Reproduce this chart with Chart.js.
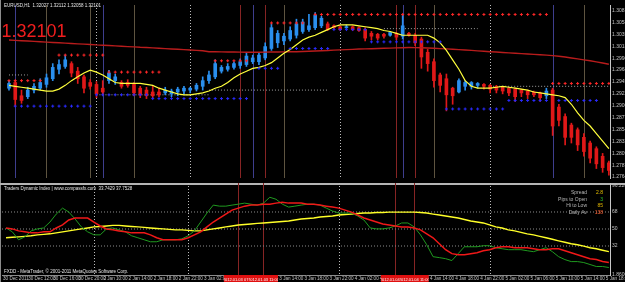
<!DOCTYPE html>
<html>
<head>
<meta charset="utf-8">
<script src="https://cdn.jsdelivr.net/npm/chart.js@4.4.1/dist/chart.umd.min.js"></script>
<style>
  html, body { margin: 0; padding: 0; background: #000; }
  #wrap { position: relative; width: 625px; height: 282px; overflow: hidden; background: #000; }
  canvas { position: absolute; left: 0; }
  #priceChart { top: 0; }
  #tdiChart { top: 183px; }
</style>
</head>
<body>
<div id="wrap">
  <canvas id="priceChart" width="625" height="183"></canvas>
  <canvas id="tdiChart" width="625" height="99"></canvas>
</div>
<script>
// EURUSD H1 candles, one per bar (bar index = position on the time axis)
const barOpen = [
  1.29336, 1.29444, 1.29192, 1.29174, 1.29300, 1.29336, 1.29408, 1.29516, 1.29696, 1.29750,
  1.29804, 1.29660, 1.29552, 1.29444, 1.29408, 1.29336, 1.29480, 1.29480, 1.29444, 1.29444,
  1.29408, 1.29336, 1.29300, 1.29264, 1.29264, 1.29246, 1.29228, 1.29264, 1.29282, 1.29300,
  1.29318, 1.29372, 1.29480, 1.29552, 1.29660, 1.29696, 1.29732, 1.29768, 1.29786, 1.29840,
  1.29840, 1.29912, 1.30092, 1.30200, 1.30236, 1.30272, 1.30344, 1.30416, 1.30452, 1.30488,
  1.30524, 1.30560, 1.30524, 1.30506, 1.30488, 1.30506, 1.30488, 1.30452, 1.30380, 1.30362,
  1.30362, 1.30344, 1.30380, 1.30326, 1.30380, 1.30344, 1.30272, 1.30020, 1.29840, 1.29588,
  1.29516, 1.29336, 1.29264, 1.29372, 1.29372, 1.29390, 1.29408, 1.29390, 1.29372, 1.29354,
  1.29336, 1.29318, 1.29300, 1.29282, 1.29264, 1.29246, 1.29192, 1.29300, 1.28976, 1.28796,
  1.28634, 1.28544, 1.28400, 1.28292, 1.28184, 1.28040, 1.27914
];
const barHigh = [
  1.29480, 1.29480, 1.29300, 1.29354, 1.29426, 1.29516, 1.29606, 1.29804, 1.29876, 1.29966,
  1.29840, 1.29732, 1.29588, 1.29498, 1.29462, 1.29480, 1.29678, 1.29606, 1.29480, 1.29498,
  1.29444, 1.29372, 1.29354, 1.29372, 1.29336, 1.29354, 1.29318, 1.29354, 1.29372, 1.29354,
  1.29426, 1.29552, 1.29660, 1.29876, 1.29768, 1.29804, 1.29840, 1.29894, 1.30020, 1.29966,
  1.30020, 1.30200, 1.30560, 1.30434, 1.30380, 1.30506, 1.30650, 1.30650, 1.30740, 1.30776,
  1.30704, 1.30596, 1.30542, 1.30524, 1.30542, 1.30524, 1.30506, 1.30488, 1.30416, 1.30380,
  1.30380, 1.30416, 1.30398, 1.30740, 1.30398, 1.30380, 1.30308, 1.30074, 1.29894, 1.29624,
  1.29606, 1.29354, 1.29516, 1.29480, 1.29462, 1.29444, 1.29426, 1.29408, 1.29390, 1.29372,
  1.29354, 1.29336, 1.29318, 1.29300, 1.29282, 1.29264, 1.29336, 1.29336, 1.29030, 1.28850,
  1.28670, 1.28580, 1.28472, 1.28328, 1.28220, 1.28094, 1.27950
];
const barLow = [
  1.29300, 1.28994, 1.29048, 1.29138, 1.29246, 1.29300, 1.29354, 1.29480, 1.29606, 1.29714,
  1.29552, 1.29426, 1.29246, 1.29318, 1.29156, 1.29210, 1.29426, 1.29408, 1.29336, 1.29354,
  1.29192, 1.29156, 1.29138, 1.29156, 1.29174, 1.29210, 1.29174, 1.29192, 1.29228, 1.29246,
  1.29282, 1.29300, 1.29426, 1.29516, 1.29624, 1.29660, 1.29696, 1.29714, 1.29750, 1.29804,
  1.29786, 1.29876, 1.30056, 1.30110, 1.30164, 1.30236, 1.30290, 1.30380, 1.30416, 1.30452,
  1.30488, 1.30434, 1.30470, 1.30434, 1.30470, 1.30434, 1.30416, 1.30236, 1.30254, 1.30254,
  1.30290, 1.30326, 1.30254, 1.30272, 1.30326, 1.30146, 1.29714, 1.29660, 1.29354, 1.29264,
  1.28904, 1.29030, 1.29246, 1.29300, 1.29318, 1.29336, 1.29318, 1.29246, 1.29246, 1.29228,
  1.29192, 1.29084, 1.29174, 1.29138, 1.29174, 1.29084, 1.29138, 1.28436, 1.28616, 1.28256,
  1.28292, 1.28148, 1.28040, 1.27914, 1.27806, 1.27734, 1.27680
];
const barClose = [
  1.29426, 1.29120, 1.29102, 1.29300, 1.29372, 1.29444, 1.29534, 1.29732, 1.29786, 1.29876,
  1.29624, 1.29516, 1.29336, 1.29372, 1.29228, 1.29264, 1.29624, 1.29552, 1.29372, 1.29390,
  1.29246, 1.29210, 1.29192, 1.29192, 1.29210, 1.29300, 1.29282, 1.29318, 1.29336, 1.29336,
  1.29390, 1.29480, 1.29588, 1.29804, 1.29732, 1.29750, 1.29804, 1.29840, 1.29948, 1.29912,
  1.29966, 1.30128, 1.30488, 1.30380, 1.30326, 1.30434, 1.30560, 1.30596, 1.30524, 1.30722,
  1.30668, 1.30452, 1.30488, 1.30452, 1.30506, 1.30452, 1.30434, 1.30290, 1.30326, 1.30290,
  1.30326, 1.30398, 1.30308, 1.30524, 1.30344, 1.30200, 1.29930, 1.29804, 1.29480, 1.29390,
  1.29210, 1.29192, 1.29480, 1.29444, 1.29444, 1.29426, 1.29372, 1.29318, 1.29300, 1.29282,
  1.29246, 1.29174, 1.29246, 1.29210, 1.29210, 1.29156, 1.29282, 1.28616, 1.28724, 1.28400,
  1.28400, 1.28256, 1.28130, 1.28004, 1.27896, 1.27824, 1.27770
];
// yellow smoothed average
const fastLine = [
  1.29390, 1.29372, 1.29354, 1.29336, 1.29318, 1.29300, 1.29282, 1.29282, 1.29318, 1.29390,
  1.29480, 1.29552, 1.29624, 1.29678, 1.29642, 1.29588, 1.29516, 1.29444, 1.29426, 1.29426,
  1.29426, 1.29426, 1.29408, 1.29390, 1.29336, 1.29300, 1.29264, 1.29228, 1.29210, 1.29210,
  1.29228, 1.29246, 1.29282, 1.29336, 1.29372, 1.29444, 1.29534, 1.29606, 1.29660, 1.29714,
  1.29732, 1.29768, 1.29822, 1.29912, 1.30002, 1.30074, 1.30164, 1.30254, 1.30308, 1.30344,
  1.30398, 1.30452, 1.30506, 1.30542, 1.30542, 1.30542, 1.30524, 1.30506, 1.30488, 1.30470,
  1.30434, 1.30416, 1.30380, 1.30344, 1.30344, 1.30344, 1.30344, 1.30344, 1.30290, 1.30200,
  1.30056, 1.29876, 1.29696, 1.29480, 1.29372, 1.29336, 1.29336, 1.29336, 1.29354, 1.29372,
  1.29354, 1.29336, 1.29318, 1.29300, 1.29264, 1.29246, 1.29228, 1.29210, 1.29192, 1.29156,
  1.29030, 1.28868, 1.28724, 1.28616, 1.28472, 1.28328, 1.28184
];
// dark red long average
const slowLine = [
  1.30254, 1.30247, 1.30240, 1.30234, 1.30227, 1.30220, 1.30214, 1.30207,
  1.30200, 1.30195, 1.30187, 1.30180, 1.30175, 1.30168, 1.30160, 1.30155,
  1.30148, 1.30142, 1.30135, 1.30128, 1.30123, 1.30115, 1.30110, 1.30103,
  1.30097, 1.30090, 1.30083, 1.30078, 1.30070, 1.30063, 1.30056, 1.30049,
  1.30031, 1.30029, 1.30027, 1.30025, 1.30024, 1.30022, 1.30020, 1.30020,
  1.30020, 1.30022, 1.30024, 1.30025, 1.30027, 1.30029, 1.30031, 1.30034,
  1.30038, 1.30043, 1.30049, 1.30054, 1.30060, 1.30065, 1.30070, 1.30076,
  1.30081, 1.30085, 1.30088, 1.30092, 1.30096, 1.30099, 1.30103, 1.30106,
  1.30110, 1.30108, 1.30105, 1.30101, 1.30096, 1.30090, 1.30085, 1.30078,
  1.30070, 1.30063, 1.30056, 1.30047, 1.30038, 1.30031, 1.30024, 1.30016,
  1.30009, 1.30002, 1.29995, 1.29988, 1.29980, 1.29973, 1.29966, 1.29957,
  1.29944, 1.29930, 1.29912, 1.29894, 1.29876, 1.29858, 1.29836, 1.29815, 1.29793
];
const priceTicks = [1.30812, 1.30586, 1.30359, 1.30133, 1.29907, 1.29681, 1.29454, 1.29228,
  1.29002, 1.28776, 1.28549, 1.28323, 1.28097, 1.27871, 1.27644];

// [level, first bar, last bar]
const resistDots = [[1.29480, 0, 5], [1.29966, 8, 15], [1.29642, 16, 24], [1.29858, 33, 38],
  [1.30578, 42, 47], [1.30740, 49, 86], [1.29426, 87, 96]];
const supportDots = [[1.28994, 1, 13], [1.29210, 14, 22], [1.29138, 23, 38], [1.29714, 40, 43],
  [1.30092, 45, 51], [1.30452, 52, 57], [1.30218, 58, 69], [1.28940, 70, 79],
  [1.29102, 80, 86], [1.29102, 88, 94]];
const pivotLines = [[1.29588, 0, 3], [1.29210, 14, 32], [1.29300, 32, 51], [1.30470, 60, 75], [1.29372, 77, 96]];

// vertical markers (bar index)
const blueMarkers = [1, 15, 39, 63, 87];
const tanMarkers = [6, 13, 20, 44, 68, 92];
const redMarkers = [37, 41, 62, 65];
const markerTimes = ['2012.01.03 07:00', '2012.01.03 11:00', '2012.01.04 08:00', '2012.01.04 11:00'];
const daySeparators = [14, 29, 53, 77];

const labelBars = [0, 4, 8, 12, 16, 20, 24, 28, 32, 36, 40, 44, 48, 52, 56, 60, 64, 68, 72, 76, 80, 84, 88, 92, 96];
const timeLabels = ['30 Dec 2011', '30 Dec 12:00', '30 Dec 16:00', '30 Dec 20:00', '2 Jan 10:00', '2 Jan 14:00',
  '2 Jan 18:00', '2 Jan 22:00', '3 Jan 02:00', '3 Jan 06:00', '3 Jan 10:00', '3 Jan 14:00', '3 Jan 18:00',
  '3 Jan 22:00', '4 Jan 02:00', '4 Jan 06:00', '4 Jan 10:00', '4 Jan 14:00', '4 Jan 18:00', '4 Jan 22:00',
  '5 Jan 02:00', '5 Jan 06:00', '5 Jan 10:00', '5 Jan 14:00', '5 Jan 18:00'];

// Traders Dynamic Index
const tdiPrice = [
  51.1, 47.0, 38.6, 41.7, 48.0, 50.1, 51.1, 57.4, 65.8, 72.1,
  67.9, 60.6, 52.2, 47.0, 43.8, 43.8, 50.1, 51.1, 49.1, 47.0,
  42.8, 40.7, 38.6, 36.5, 36.5, 38.6, 38.6, 38.6, 39.6, 42.8,
  48.0, 57.4, 66.9, 75.3, 74.2, 74.2, 75.3, 76.3, 77.4, 76.3,
  75.3, 77.4, 83.6, 81.5, 76.3, 73.2, 74.2, 75.3, 76.3, 76.3,
  75.3, 72.1, 69.0, 66.9, 66.9, 66.9, 63.7, 59.5, 51.1, 50.1,
  50.1, 51.1, 53.2, 56.4, 56.4, 52.2, 43.8, 33.3, 20.7, 19.7,
  18.6, 16.6, 23.9, 31.2, 31.2, 31.2, 32.3, 32.3, 30.2, 29.1,
  28.1, 28.1, 28.1, 27.0, 26.0, 28.1, 30.2, 26.0, 20.7, 17.6,
  15.5, 15.5, 14.5, 12.4, 10.3, 10.3, 9.2
];
const tdiSignal = [
  51.1, 50.1, 48.0, 47.0, 45.9, 45.9, 47.0, 47.0, 51.1, 54.3,
  59.5, 61.6, 61.6, 61.6, 57.4, 53.2, 50.1, 49.1, 48.0, 47.0,
  45.9, 45.9, 45.9, 43.8, 40.7, 38.6, 38.6, 38.6, 38.6, 40.7,
  43.8, 47.0, 52.2, 57.4, 61.6, 65.8, 70.0, 72.1, 74.2, 75.3,
  75.3, 76.3, 76.3, 77.4, 78.4, 77.4, 77.4, 77.4, 76.3, 76.3,
  75.3, 74.2, 73.2, 72.1, 70.0, 67.9, 64.8, 61.6, 59.5, 57.4,
  55.3, 54.3, 53.2, 52.2, 52.2, 51.1, 49.1, 44.9, 40.7, 34.4,
  28.1, 23.9, 22.8, 22.8, 23.9, 24.9, 27.0, 28.1, 30.2, 31.2,
  31.2, 30.2, 30.2, 30.2, 29.1, 28.1, 28.1, 29.1, 29.1, 27.0,
  24.9, 22.8, 20.7, 18.6, 17.6, 15.5, 14.5
];
const tdiBase = [
  40.7, 41.2, 41.7, 42.2, 42.8, 43.8, 44.3, 44.9, 45.9, 47.0,
  48.0, 49.1, 50.1, 51.1, 52.2, 52.7, 53.2, 53.8, 53.8, 53.2,
  52.7, 52.2, 51.7, 51.1, 50.6, 50.1, 49.6, 49.1, 49.1, 48.5,
  48.0, 48.0, 49.1, 50.1, 51.1, 52.2, 53.2, 54.3, 54.8, 55.3,
  55.9, 56.4, 56.9, 57.4, 57.9, 58.5, 59.5, 60.6, 61.1, 61.6,
  62.7, 63.2, 63.7, 64.8, 65.3, 65.8, 66.4, 66.9, 66.9, 67.4,
  67.4, 67.9, 67.9, 67.9, 67.9, 67.9, 67.4, 66.9, 65.8, 64.8,
  63.7, 62.7, 61.6, 60.1, 58.5, 57.4, 56.4, 54.3, 52.2, 51.1,
  49.1, 48.0, 46.4, 44.9, 43.8, 42.2, 40.7, 39.1, 37.5, 36.0,
  34.4, 33.3, 31.8, 30.2, 29.1, 27.5, 26.0
];
const tdiLevels = [68, 50, 32];
const tdiTicks = [1.86, 32, 50, 68, 96.22];
const tdiTickText = ['1.8600', '32', '50', '68', '96.2200'];

const infoNames = ['Spread', 'Pips to Open', 'Hi to Low', 'Daily Av'];
const infoValues = ['2.8', '3', '85', '138'];

const headerText = 'EURUSD,H1  1.32027 1.32112 1.32058 1.32101';
const bidText = '1.32101';
const tdiTitle = 'Traders Dynamic Index | www.compassfx.com  33.7429 37.7528';
const footerText = 'FXDD - MetaTrader, \u00a9 2001-2011 MetaQuotes Software Corp.';

// ---------------------------------------------------------------
const FONT = '"Liberation Sans", Arial, sans-serif';
const X_MIN = -0.64, X_MAX = 96.18;
const bars = barOpen.map((_, i) => i);
const candleColor = bars.map(i => barClose[i] >= barOpen[i] ? '#2a8fee' : '#e01818');

function levelPoints(segs) {
  const pts = [];
  segs.forEach(([lvl, a, b]) => { for (let i = a; i <= b; i++) pts.push({x: i, y: lvl}); });
  return pts;
}

function markerPlugin(groups) {
  return {
    id: 'markers',
    beforeDatasetsDraw(chart) {
      const {ctx, chartArea} = chart;
      const xs = chart.scales.x;
      ctx.save();
      ctx.lineWidth = 1;
      groups.forEach(g => {
        ctx.strokeStyle = g.color;
        ctx.setLineDash(g.dash || []);
        g.bars.forEach(b => {
          const x = Math.round(xs.getPixelForValue(b)) + 0.5;
          ctx.beginPath();
          ctx.moveTo(x, chartArea.top);
          ctx.lineTo(x, chartArea.bottom);
          ctx.stroke();
        });
      });
      ctx.restore();
    }
  };
}

const mainText = {
  id: 'mainText',
  afterDraw(chart) {
    const ctx = chart.ctx;
    ctx.save();
    ctx.fillStyle = '#8c8c8c';
    ctx.fillRect(0, 0, 1, chart.height);
    ctx.font = '4.5px ' + FONT;
    ctx.fillStyle = '#e6e6e6';
    ctx.fillText(headerText, 4, 7);
    ctx.font = '18px ' + FONT;
    ctx.fillStyle = '#f01e1e';
    ctx.fillText(bidText, 1.5, 37);
    ctx.restore();
  }
};

const tdiText = {
  id: 'tdiText',
  beforeDraw(chart) {
    const ctx = chart.ctx;
    ctx.save();
    ctx.fillStyle = '#b4b4b4';
    ctx.fillRect(0, 0, chart.width, 2);
    ctx.restore();
  },
  afterDraw(chart) {
    const ctx = chart.ctx;
    const xs = chart.scales.x;
    ctx.save();
    ctx.fillStyle = '#8c8c8c';
    ctx.fillRect(0, 2, 1, chart.height);
    ctx.font = '4.5px ' + FONT;
    ctx.fillStyle = '#e6e6e6';
    ctx.fillText(tdiTitle, 4, 7);
    ctx.fillText(footerText, 4, 90);
    ctx.font = '5px ' + FONT;
    const valueColors = ['#e8c000', '#2ec82e', '#e0b400', '#ff6030'];
    infoNames.forEach((name, i) => {
      const y = 11 + i * 6.7;
      ctx.textAlign = 'right';
      ctx.fillStyle = '#b4b4b4';
      ctx.fillText(name, 587, y);
      ctx.fillStyle = valueColors[i];
      ctx.fillText(infoValues[i], 603, y);
    });
    // red time boxes of the red markers on the time axis
    ctx.font = '4px ' + FONT;
    ctx.textAlign = 'center';
    redMarkers.forEach((b, i) => {
      const x = xs.getPixelForValue(b);
      ctx.fillStyle = '#e01010';
      ctx.fillRect(x - 14.5, 92, 29, 7);
      ctx.save();
      ctx.beginPath();
      ctx.rect(x - 14.5, 92, 29, 7);
      ctx.clip();
      ctx.fillStyle = '#ffffff';
      ctx.fillText(markerTimes[i], x, 97.5);
      ctx.restore();
    });
    ctx.restore();
  }
};

const baseOptions = {
  responsive: false,
  animation: false,
  devicePixelRatio: 1,
  layout: {padding: {left: 2, right: 0, top: 0, bottom: 0}},
  plugins: {legend: {display: false}, tooltip: {enabled: false}}
};

new Chart(document.getElementById('priceChart'), {
  type: 'bar',
  data: {
    datasets: [
      {type: 'line', data: levelPoints(resistDots), showLine: false, pointStyle: 'cross',
        pointRadius: 1.5, pointBorderWidth: 1, pointBorderColor: '#ff2828'},
      {type: 'line', data: levelPoints(supportDots), showLine: false, pointStyle: 'cross',
        pointRadius: 1.5, pointBorderWidth: 1, pointBorderColor: '#2a2aff'},
      {type: 'line', data: fastLine.map((v, i) => ({x: i, y: v})), borderColor: '#ffff3c',
        borderWidth: 1.2, pointRadius: 0},
      {type: 'line', data: slowLine.map((v, i) => ({x: i, y: v})), borderColor: '#b81c1c',
        borderWidth: 1.4, pointRadius: 0},
      {data: bars.map(i => ({x: i, y: [barOpen[i], barClose[i]]})), backgroundColor: candleColor,
        barThickness: 3, grouped: false, minBarLength: 1},
      {data: bars.map(i => ({x: i, y: [barLow[i], barHigh[i]]})), backgroundColor: candleColor,
        barThickness: 1, grouped: false},
      ...pivotLines.map(([lvl, a, b]) => ({type: 'line', data: [{x: a, y: lvl}, {x: b, y: lvl}],
        borderColor: '#a0a0a0', borderWidth: 1, borderDash: [1, 2], pointRadius: 0}))
    ]
  },
  options: {
    ...baseOptions,
    scales: {
      x: {type: 'linear', display: false, min: X_MIN, max: X_MAX, bounds: 'data', offset: false},
      y: {
        type: 'linear', position: 'right', min: 1.27626, max: 1.30920, bounds: 'data',
        grid: {display: false, drawTicks: false},
        border: {display: true, color: '#c8c8c8'},
        ticks: {color: '#c0c0c0', font: {family: FONT, size: 5}, padding: 2,
          callback: v => v.toFixed(5)},
        afterBuildTicks: s => { s.ticks = priceTicks.map(v => ({value: v})); },
        afterFit: s => { s.width = 15; s.paddingTop = 0; s.paddingBottom = 0; }
      }
    }
  },
  plugins: [markerPlugin([
    {bars: blueMarkers, color: '#3e3e8e'},
    {bars: tanMarkers, color: '#5e5440'},
    {bars: redMarkers, color: '#862424'},
    {bars: daySeparators, color: '#bdbdbd', dash: [1, 2]}
  ]), mainText]
});

new Chart(document.getElementById('tdiChart'), {
  type: 'line',
  data: {
    datasets: [
      {data: tdiSignal.map((v, i) => ({x: i, y: v})), borderColor: '#f01818', borderWidth: 1.5, pointRadius: 0},
      {data: tdiPrice.map((v, i) => ({x: i, y: v})), borderColor: '#1f9a1f', borderWidth: 1, pointRadius: 0},
      {data: tdiBase.map((v, i) => ({x: i, y: v})), borderColor: '#ffff28', borderWidth: 1.4, pointRadius: 0},
      ...tdiLevels.map(lvl => ({data: [{x: X_MIN, y: lvl}, {x: X_MAX, y: lvl}],
        borderColor: '#8c8c8c', borderWidth: 1, borderDash: [1, 2], pointRadius: 0}))
    ]
  },
  options: {
    ...baseOptions,
    scales: {
      x: {
        type: 'linear', position: 'bottom', min: X_MIN, max: X_MAX, bounds: 'data', offset: false,
        grid: {display: false, drawTicks: false},
        border: {display: true, color: '#8c8c8c'},
        ticks: {color: '#c0c0c0', font: {family: FONT, size: 4.6}, padding: 1, align: 'start',
          labelOffset: -3, autoSkip: false, maxRotation: 0, minRotation: 0,
          callback: v => timeLabels[labelBars.indexOf(v)]},
        afterBuildTicks: s => { s.ticks = labelBars.map(v => ({value: v})); },
        afterFit: s => { s.height = 7; s.paddingLeft = 0; s.paddingRight = 0; }
      },
      y: {
        type: 'linear', position: 'right', min: 1.3, max: 98.7, bounds: 'data',
        grid: {display: false, drawTicks: false},
        border: {display: true, color: '#c8c8c8'},
        ticks: {color: '#c0c0c0', font: {family: FONT, size: 5}, padding: 2,
          callback: v => tdiTickText[tdiTicks.indexOf(v)]},
        afterBuildTicks: s => { s.ticks = tdiTicks.map(v => ({value: v})); },
        afterFit: s => { s.width = 15; s.paddingTop = 0; s.paddingBottom = 0; }
      }
    }
  },
  plugins: [markerPlugin([
    {bars: redMarkers, color: '#862424'},
    {bars: daySeparators, color: '#bdbdbd', dash: [1, 2]}
  ]), tdiText]
});
</script>
</body>
</html>
